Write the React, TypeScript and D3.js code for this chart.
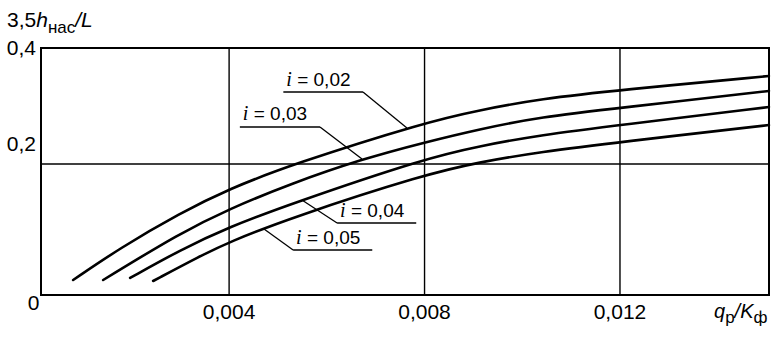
import React from "react";
import * as d3 from "d3";

const W = 779;
const H = 338;

// axis ticks
const xTicks = [0.004, 0.008, 0.012];
const xTickLabels = ["0,004", "0,008", "0,012"];
const yTicks = [0.4, 0.2];
const yTickLabels = ["0,4", "0,2"];
const zeroLabel = "0";

// series (x = q_p/K_ф, y = 3,5 h_нас / L)
const curveI002: [number, number][] = [
  [0.000808, 0.0229], [0.00177, 0.0718], [0.002997, 0.1252], [0.004, 0.1618],
  [0.005248, 0.1985], [0.008031, 0.2724], [0.009136, 0.2931], [0.010363, 0.3121],
  [0.012, 0.3276], [0.015049, 0.3517],
];
const curveI003: [number, number][] = [
  [0.001422, 0.0229], [0.002997, 0.0947], [0.004, 0.1313], [0.005248, 0.1695],
  [0.006721, 0.2086], [0.008031, 0.2379], [0.009136, 0.2603], [0.010363, 0.281],
  [0.012, 0.2966], [0.015049, 0.3259],
];
const curveI004: [number, number][] = [
  [0.001974, 0.026], [0.002997, 0.0687], [0.004, 0.1038], [0.005248, 0.1389],
  [0.008031, 0.2103], [0.009136, 0.231], [0.010363, 0.25], [0.012, 0.2672],
  [0.015049, 0.2983],
];
const curveI005: [number, number][] = [
  [0.002445, 0.0214], [0.003407, 0.0595], [0.004, 0.0809], [0.005248, 0.1176],
  [0.008031, 0.1847], [0.009136, 0.2034], [0.010363, 0.2207], [0.012, 0.2379],
  [0.015049, 0.2672],
];
const seriesValues = ["0,02", "0,03", "0,04", "0,05"];

// label leaders (data units)
const labelUnderlineX0 = [0.00511, 0.00422, 0.00621, 0.00531];
const labelUnderlineX1 = [0.00674, 0.00586, 0.00783, 0.00693];
const labelUnderlineY = [0.3241, 0.2638, 0.1099, 0.0687];
const labelLeaderX = [0.00764, 0.00672, 0.00549, 0.0047];

const FONT = "'Liberation Sans', Arial, Helvetica, sans-serif";

function interp(curve: [number, number][], x: number): number {
  for (let k = 0; k < curve.length - 1; k++) {
    const [x0, y0] = curve[k];
    const [x1, y1] = curve[k + 1];
    if (x >= x0 && x <= x1) return y0 + ((x - x0) / (x1 - x0)) * (y1 - y0);
  }
  return curve[curve.length - 1][1];
}

export default function App() {
  const left = 41, right = 769, top = 48, bottom = 295;
  const x = d3.scaleLinear().domain([0.00015, 0.01505]).range([left, right]);
  const y = d3.scaleLinear().domain([0, 0.2, 0.4]).range([bottom, 164, top]);
  const line = d3
    .line<[number, number]>()
    .x((d) => x(d[0]))
    .y((d) => y(d[1]))
    .curve(d3.curveBasis);
  const curves = [curveI002, curveI003, curveI004, curveI005];

  return (
    <svg
      width={W}
      height={H}
      style={{ position: "fixed", left: 0, top: 0, background: "#fff" }}
      fontFamily={FONT}
    >
      <rect x={0} y={0} width={W} height={H} fill="#fff" />
      {/* grid */}
      {xTicks.map((t) => (
        <line key={"gx" + t} x1={x(t)} x2={x(t)} y1={top} y2={bottom} stroke="#000" strokeWidth={1.4} />
      ))}
      <line x1={left} x2={right} y1={y(0.2)} y2={y(0.2)} stroke="#000" strokeWidth={1.4} />
      {/* frame */}
      <rect x={left} y={top} width={right - left} height={bottom - top} fill="none" stroke="#000" strokeWidth={2} />

      {/* curves */}
      {curves.map((c, i) => (
        <path key={"c" + i} d={line(c) || ""} fill="none" stroke="#000" strokeWidth={2.6} strokeLinecap="round" />
      ))}

      {/* labels */}
      {seriesValues.map((v, i) => {
        const ux0 = x(labelUnderlineX0[i]);
        const ux1 = x(labelUnderlineX1[i]);
        const uy = y(labelUnderlineY[i]);
        const lx = labelLeaderX[i];
        const ly = interp(curves[i], lx);
        const startX = lx > labelUnderlineX1[i] ? ux1 : ux0;
        return (
          <g key={"l" + i}>
            <line x1={ux0} x2={ux1} y1={uy} y2={uy} stroke="#000" strokeWidth={1.3} />
            <line x1={startX} y1={uy} x2={x(lx)} y2={y(ly)} stroke="#000" strokeWidth={1.3} />
            <text x={ux0 + 3} y={uy - 6.5} fontSize={19}>
              <tspan fontStyle="italic" fontFamily="'Liberation Serif', 'Times New Roman', serif" fontSize={20}>i</tspan>
              {" = " + v}
            </text>
          </g>
        );
      })}

      {/* y tick labels */}
      {yTicks.map((t, i) => (
        <text key={"yt" + t} x={36} y={y(t) + (t === 0.4 ? 7 : -13)} fontSize={21} textAnchor="end">
          {yTickLabels[i]}
        </text>
      ))}
      <text x={x(0)} y={310} fontSize={21} textAnchor="middle">{zeroLabel}</text>

      {/* x tick labels */}
      {xTicks.map((t, i) => (
        <text key={"xt" + t} x={x(t)} y={319} fontSize={21} textAnchor="middle">
          {xTickLabels[i]}
        </text>
      ))}

      {/* y title */}
      <text x={7} y={27} fontSize={21}>
        3,5<tspan fontStyle="italic">h</tspan>
        <tspan fontSize={17} dy={6}>нас</tspan>
        <tspan dy={-6} fontStyle="italic">/L</tspan>
      </text>

      {/* x title */}
      <text x={714} y={318} fontSize={20}>
        <tspan fontStyle="italic">q</tspan>
        <tspan fontSize={17} dy={5}>р</tspan>
        <tspan dy={-5} fontStyle="italic">/K</tspan>
        <tspan fontSize={17} dy={5}>ф</tspan>
      </text>
    </svg>
  );
}
